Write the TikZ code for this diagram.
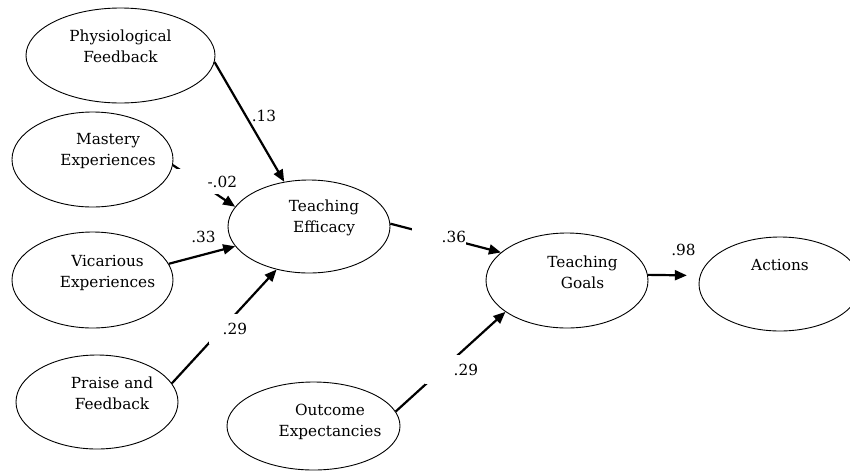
\documentclass[tikz,border=0pt]{standalone}
\usepackage{fontspec}
\setmainfont{DejaVu Serif}
\usetikzlibrary{shapes.geometric,arrows.meta}

\begin{document}
\begin{tikzpicture}[x=1pt,y=-1pt,
    font=\fontsize{15.3}{21}\selectfont,
    latent/.style={ellipse,draw,line width=0.9pt,inner sep=0pt},
    vtext/.style={align=center,inner sep=0pt},
    link/.style={line width=2.2pt,-{Triangle[length=12pt,width=10pt]}},
    coef/.style={inner sep=0pt},
    mask/.style={fill=white,inner sep=0pt,align=right}]

    \useasboundingbox (0,0) rectangle (850,474);

    \node[latent,minimum width=189pt,minimum height=95pt,label={[vtext,yshift=9pt]center:Physiological\\Feedback}] (phys) at (120.5,55.5) {};
    \node[latent,minimum width=161pt,minimum height=95pt,label={[vtext,xshift=15.5pt,yshift=8.5pt]center:Mastery\\Experiences}] (mast) at (92.5,159.5) {};
    \node[latent,minimum width=161pt,minimum height=96pt,label={[vtext,xshift=15pt,yshift=7.5pt]center:Vicarious\\Experiences}] (vic) at (92.5,280) {};
    \node[latent,minimum width=162pt,minimum height=94pt,label={[vtext,xshift=15pt,yshift=8.5pt]center:Praise and\\Feedback}] (praise) at (97,402) {};
    \node[latent,minimum width=162pt,minimum height=93pt,label={[vtext,xshift=15pt,yshift=9pt]center:Teaching\\Efficacy}] (eff) at (309,226.5) {};
    \node[latent,minimum width=173pt,minimum height=88pt,label={[vtext,xshift=16.5pt,yshift=4pt]center:Outcome\\Expectancies}] (outc) at (313.5,426) {};
    \node[latent,minimum width=162pt,minimum height=95pt,label={[vtext,xshift=15.5pt,yshift=8pt]center:Teaching\\Goals}] (goals) at (567,280.5) {};
    \node[latent,minimum width=162pt,minimum height=94pt,label={[vtext,yshift=19pt]center:Actions}] (acts) at (780,284) {};

    \draw[link] (phys.-4) -- (eff.119);
    \draw[link] (mast.-4) -- (eff.165);
    \draw[link] (vic.12) -- (eff.195);
    \draw[link] (praise.14) -- (eff.-127);
    \draw[link] (eff.2) -- (goals.157);
    \draw[link] (outc.10) -- (goals.-153);
    \draw[link,shorten >=13pt] (goals.4) -- (acts.174);

    \node[mask,text width=61pt,minimum height=25pt] (m02) at (206.5,181.5) {-.02};
    \node[mask,text width=38pt,minimum height=30pt] (p29) at (228,329) {.29};
    \node[mask,text width=54pt,minimum height=18pt] (e36) at (439,237) {.36};
    \node[mask,text width=53pt,minimum height=29pt] (o29) at (451.5,369.5) {.29};
    \node[coef] (p13) at (264,116) {.13};
    \node[coef] (v33) at (203.5,237) {.33};
    \node[coef] (g98) at (683.5,250) {.98};

\end{tikzpicture}
\end{document}
